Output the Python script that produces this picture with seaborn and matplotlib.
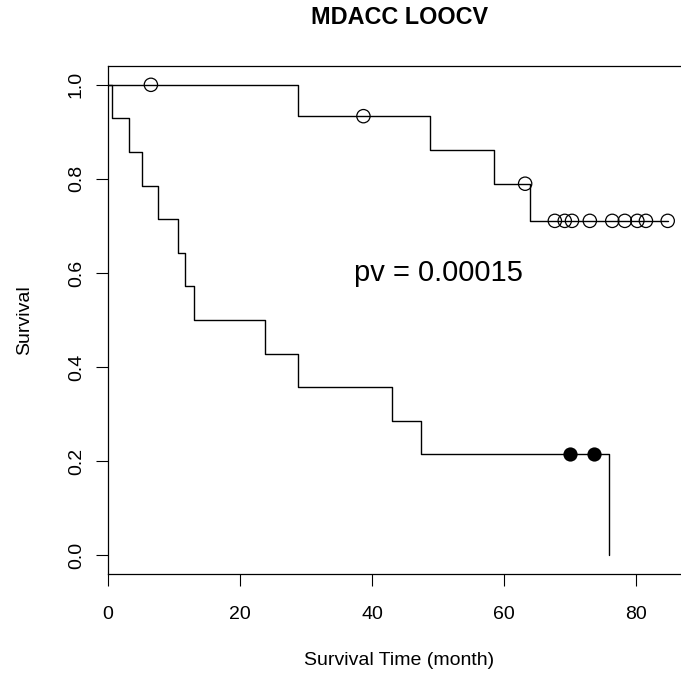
import numpy as np
import pandas as pd
import matplotlib
matplotlib.use("Agg")
import matplotlib.pyplot as plt
import seaborn as sns

# Follow-up times (months) and event flags (1 = death, 0 = censored)
low_risk_time = [6.5, 28.8, 38.7, 48.8, 58.5, 63.2, 63.9, 67.7, 69.2, 70.3,
                 73.0, 76.4, 78.3, 80.2, 81.5, 84.8]
low_risk_event = [0, 1, 0, 1, 1, 0, 1, 0, 0, 0, 0, 0, 0, 0, 0, 0]

high_risk_time = [0.56, 3.2, 5.1, 7.6, 10.65, 11.67, 13.1, 23.8, 28.8, 43.0,
                  47.4, 70.0, 73.6, 75.9]
high_risk_event = [1, 1, 1, 1, 1, 1, 1, 1, 1, 1, 1, 0, 0, 1]

title = "MDACC LOOCV"
pv_text = "pv = 0.00015"
x_ticks = [0, 20, 40, 60, 80]
y_ticks = [0.0, 0.2, 0.4, 0.6, 0.8, 1.0]


def kaplan_meier(times, events):
    t = np.asarray(times, float)
    e = np.asarray(events, int)
    xs, ys = [0.0], [1.0]
    s = 1.0
    for ut in np.unique(t):
        n_risk = np.sum(t >= ut)
        d = np.sum((t == ut) & (e == 1))
        if d > 0:
            s *= 1.0 - d / n_risk
        xs.append(ut)
        ys.append(s)
    curve = pd.DataFrame({"time": xs, "surv": ys})
    cens_t = t[e == 0]
    cens_s = [curve.loc[curve["time"] == ct, "surv"].iloc[0] for ct in cens_t]
    cens = pd.DataFrame({"time": cens_t, "surv": cens_s})
    return curve, cens


sns.set_style("white")
plt.rcParams["font.family"] = ["Liberation Sans", "DejaVu Sans"]
plt.rcParams["text.color"] = "black"
plt.rcParams["axes.labelcolor"] = "black"
plt.rcParams["xtick.color"] = "black"
plt.rcParams["ytick.color"] = "black"

W, H = 681, 674
fig = plt.figure(figsize=(W / 100, H / 100), dpi=100)
# plot box: x 108..691 px (right edge runs past the canvas), y 66..574 px
ax = fig.add_axes([108 / W, (H - 574) / H, (691 - 108) / W, (574 - 66) / H])

lo_curve, lo_cens = kaplan_meier(low_risk_time, low_risk_event)
hi_curve, hi_cens = kaplan_meier(high_risk_time, high_risk_event)

for curve in (lo_curve, hi_curve):
    sns.lineplot(data=curve, x="time", y="surv", ax=ax, estimator=None,
                 sort=False, drawstyle="steps-post", color="black",
                 linewidth=1.0, zorder=2)

sns.scatterplot(data=lo_cens, x="time", y="surv", ax=ax, marker="o",
                s=92, facecolor="none", edgecolor="black", linewidth=0.9,
                zorder=3)
sns.scatterplot(data=hi_cens, x="time", y="surv", ax=ax, marker="o",
                s=105, color="black", edgecolor="black", linewidth=0,
                zorder=3)

ax.set_xlim(0, 88.33)
ax.set_ylim(-0.04, 1.04)
ax.set_xticks(x_ticks)
ax.set_xticklabels([str(v) for v in x_ticks])
ax.set_yticks(y_ticks)
ax.set_yticklabels([f"{v:.1f}" for v in y_ticks])

for side in ("left", "bottom", "top", "right"):
    ax.spines[side].set_visible(True)
    ax.spines[side].set_color("black")
    ax.spines[side].set_linewidth(0.9)

ax.tick_params(axis="both", direction="out", length=8.6, width=0.8,
               color="black", labelsize=14, labelcolor="black",
               left=True, bottom=True)
ax.tick_params(axis="x", pad=14.5)
ax.tick_params(axis="y", pad=8)
plt.setp(ax.get_yticklabels(), rotation=90, va="center", ha="right")

ax.set_xlabel("Survival Time (month)", fontsize=14, labelpad=21)
ax.set_ylabel("Survival", fontsize=14, labelpad=25)
ax.set_title(title, fontsize=16.8, fontweight="bold", pad=30, color="black")

ax.text(50, 0.6, pv_text, fontsize=21, ha="center", va="center")

fig.savefig("out.png", dpi=100)
